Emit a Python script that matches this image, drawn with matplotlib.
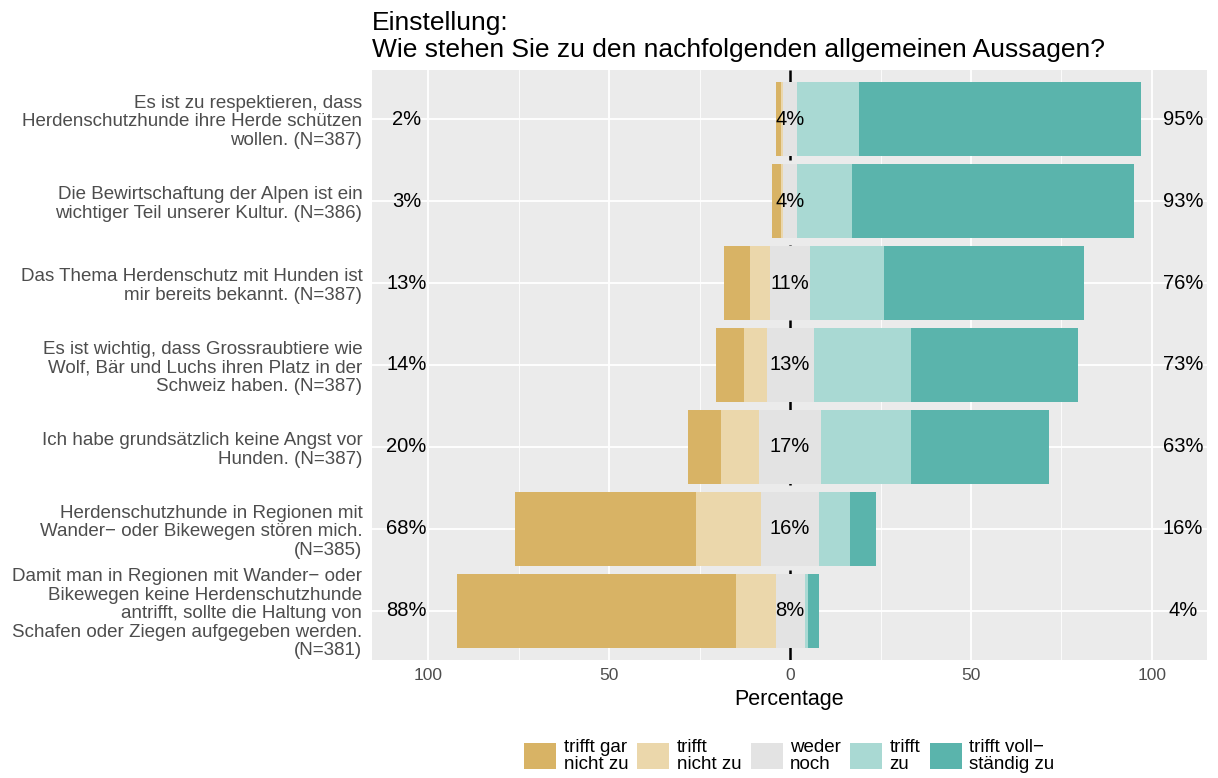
import numpy as np
import matplotlib
matplotlib.use("Agg")
import matplotlib.pyplot as plt

plt.rcParams['font.family'] = ['Liberation Sans', 'DejaVu Sans']

# items, top to bottom
items = [
    "Es ist zu respektieren, dass\nHerdenschutzhunde ihre Herde schützen\nwollen. (N=387)",
    "Die Bewirtschaftung der Alpen ist ein\nwichtiger Teil unserer Kultur. (N=386)",
    "Das Thema Herdenschutz mit Hunden ist\nmir bereits bekannt. (N=387)",
    "Es ist wichtig, dass Grossraubtiere wie\nWolf, Bär und Luchs ihren Platz in der\nSchweiz haben. (N=387)",
    "Ich habe grundsätzlich keine Angst vor\nHunden. (N=387)",
    "Herdenschutzhunde in Regionen mit\nWander− oder Bikewegen stören mich.\n(N=385)",
    "Damit man in Regionen mit Wander− oder\nBikewegen keine Herdenschutzhunde\nantrifft, sollte die Haltung von\nSchafen oder Ziegen aufgegeben werden.\n(N=381)",
]

# percentages per answer category
gar_nicht = np.array([1.5, 2.5, 7.2, 7.7, 9.3, 50.1, 77.1])
nicht = np.array([0.5, 0.5, 5.6, 6.2, 10.5, 17.9, 11.0])
weder = np.array([4, 4, 11, 13, 17, 16, 8])
zu = np.array([17.0, 15.0, 20.4, 26.9, 24.9, 8.6, 0.9])
voll = np.array([78.0, 78.0, 55.3, 46.2, 38.1, 7.2, 3.2])

levels = ["trifft gar\nnicht zu", "trifft\nnicht zu", "weder\nnoch", "trifft\nzu", "trifft voll−\nständig zu"]
colors = ["#D8B365", "#EBD7AB", "#E3E3E3", "#A9D9D3", "#5AB4AC"]

xticks = [-100, -50, 0, 50, 100]
xticklabels = ["100", "50", "0", "50", "100"]

fig = plt.figure(figsize=(12.18, 7.78), dpi=100)
ax = fig.add_axes([372/1218, 1-660/778, (1207-372)/1218, (660-70)/778])
ax.set_facecolor("#EBEBEB")

y = np.arange(len(items))
h = 0.9
half = weder / 2

# grid
for gx in [-75, -25, 25, 75]:
    ax.axvline(gx, color="white", lw=0.6, zorder=0)
for gx in [-100, -50, 50, 100]:
    ax.axvline(gx, color="white", lw=1.3, zorder=0)
for gy in y:
    ax.axhline(gy, color="white", lw=1.3, zorder=0)
ax.axvline(0, color="black", lw=1.8, ls=(0, (6, 4)), zorder=1)

bars = []
bars.append(ax.barh(y, gar_nicht, left=-half - nicht - gar_nicht, height=h, color=colors[0], zorder=2))
bars.append(ax.barh(y, nicht, left=-half - nicht, height=h, color=colors[1], zorder=2))
bars.append(ax.barh(y, weder, left=-half, height=h, color=colors[2], zorder=2))
bars.append(ax.barh(y, zu, left=half, height=h, color=colors[3], zorder=2))
bars.append(ax.barh(y, voll, left=half + zu, height=h, color=colors[4], zorder=2))

left_tot = gar_nicht + nicht
right_tot = zu + voll
for i in y:
    ax.text(-106, i, f"{round(left_tot[i])}%", ha="center", va="center", fontsize=14.5, zorder=3)
    ax.text(0, i, f"{weder[i]}%", ha="center", va="center", fontsize=14.5, zorder=3)
    ax.text(108.6, i, f"{round(right_tot[i])}%", ha="center", va="center", fontsize=14.5, zorder=3)

ax.set_xlim(-115.5, 115.2)
ax.set_ylim(len(items) - 0.4, -0.6)
ax.set_xticks(xticks, xticklabels)
ax.set_yticks(y, items)
ax.tick_params(axis="both", length=0, colors="#4D4D4D")
ax.tick_params(axis="y", pad=7, labelsize=13.5)
ax.tick_params(axis="x", pad=6, labelsize=12.5)
for lab in ax.get_yticklabels():
    lab.set_linespacing(1.12)
for s in ax.spines.values():
    s.set_visible(False)

ax.set_xlabel("Percentage", fontsize=15.5, labelpad=4)

fig.text(372/1218, 0.986, "Einstellung:\nWie stehen Sie zu den nachfolgenden allgemeinen Aussagen?",
         ha="left", va="top", fontsize=19, linespacing=1.17)

fig.legend([b[0] for b in bars], levels, loc="lower center", bbox_to_anchor=(0.648, 0.0),
           ncol=5, frameon=False, fontsize=13.5, handlelength=1.7, handleheight=1.75,
           handletextpad=0.4, columnspacing=0.5, borderaxespad=0.1, borderpad=0.15,
           labelspacing=0)
for t in fig.legends[0].get_texts():
    t.set_linespacing(1.05)

fig.savefig("out.png", dpi=100)
